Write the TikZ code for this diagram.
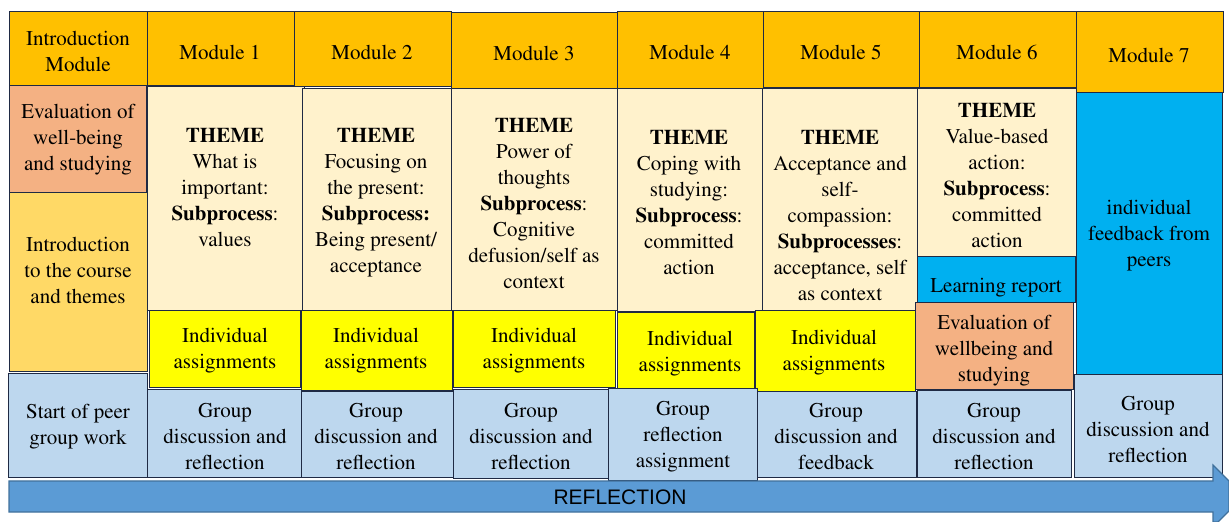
\documentclass[tikz,border=0pt]{standalone}
\usepackage{fontspec}
\newfontfamily\reflfont{Liberation Sans}
\newcommand\cellfont{\fontencoding{OT1}\fontfamily{ptm}\selectfont}
\definecolor{headcol}{HTML}{FFC000}
\definecolor{themecol}{HTML}{FFF2CC}
\definecolor{indivcol}{HTML}{FFFF00}
\definecolor{groupcol}{HTML}{BDD7EE}
\definecolor{evalcol}{HTML}{F4B183}
\definecolor{coursecol}{HTML}{FFD966}
\definecolor{peercol}{HTML}{00B0F0}
\definecolor{arrowcol}{HTML}{5B9BD5}
\definecolor{arrowline}{HTML}{41719C}
\definecolor{framecol}{HTML}{1F2A44}
\tikzset{
	cell/.style = {draw = framecol, line width = 0.5pt},
	head/.style = {cell, fill = headcol},
	theme/.style = {cell, fill = themecol},
	indiv/.style = {cell, fill = indivcol},
	group/.style = {cell, fill = groupcol},
	evalbox/.style = {cell, fill = evalcol},
	peer/.style = {cell, fill = peercol},
	txt/.style = {align = center, inner sep = 0pt, font = \cellfont\fontsize{10.5}{13}\selectfont}
}
\begin{document}
\begin{tikzpicture}[x = 0.5pt, y = -0.5pt]
		\useasboundingbox (0,0) rectangle (1229,522);
		\draw [head] (9,12) rectangle (147,86);
		\draw [head] (147,12) rectangle (294,86);
		\draw [head] (294,12) rectangle (451,87);
		\draw [head] (451,13) rectangle (617,89);
		\draw [head] (617,12) rectangle (763,89);
		\draw [head] (763,12) rectangle (919,88);
		\draw [head] (919,12) rectangle (1076,88);
		\draw [head] (1076,12) rectangle (1223,93);
		\node [txt] (intro) at (78,51) {Introduction\\Module};
		\node [txt] (mod1) at (220,52) {Module 1};
		\node [txt] (mod2) at (372,52) {Module 2};
		\node [txt] (mod3) at (534,53) {Module 3};
		\node [txt] (mod4) at (690,52) {Module 4};
		\node [txt] (mod5) at (841,52) {Module 5};
		\node [txt] (mod6) at (997,52) {Module 6};
		\node [txt] (mod7) at (1149,55) {Module 7};
		\draw [evalbox] (9,86) rectangle (146,193);
		\draw [cell, fill = coursecol] (9,193) rectangle (147,372);
		\draw [group] (8,374) rectangle (147,478);
		\node [txt] (evalstart) at (78,140) {Evaluation of\\well-being\\and studying};
		\node [txt] (introcourse) at (78,270) {Introduction\\to the course\\and themes};
		\node [txt] (peerstart) at (78,427) {Start of peer\\group work};
		\draw [theme] (147,87) rectangle (304,311);
		\draw [theme] (302,89) rectangle (451,311);
		\draw [theme] (451,89) rectangle (617,311);
		\draw [theme] (617,89) rectangle (762,312);
		\draw [theme] (762,89) rectangle (918,311);
		\draw [theme] (917,89) rectangle (1076,257);
		\node [txt] (theme1) at (225,188) {\textbf{THEME}\\What is\\important:\\\textbf{Subprocess}:\\values};
		\node [txt] (theme2) at (376,203) {\textbf{THEME}\\Focusing on\\the present:\\\textbf{Subprocess:}\\Being present/\\acceptance};
		\node [txt] (theme3) at (534,204) {\textbf{THEME}\\Power of\\thoughts\\\textbf{Subprocess}:\\Cognitive\\defusion/self as\\context};
		\node [txt] (theme4) at (689,203) {\textbf{THEME}\\Coping with\\studying:\\\textbf{Subprocess}:\\committed\\action};
		\node [txt] (theme5) at (840,216) {\textbf{THEME}\\Acceptance and\\self-\\compassion:\\\textbf{Subprocesses}:\\acceptance, self\\as context};
		\node [txt] (theme6) at (997,176) {\textbf{THEME}\\Value-based\\action:\\\textbf{Subprocess}:\\committed\\action};
		\draw [peer] (1076,93) rectangle (1222,375);
		\node [txt] (feedback) at (1149,236) {individual\\feedback from\\peers};
		\draw [peer] (917,257) rectangle (1075,303);
		\node [txt] (report) at (996,288) {Learning report};
		\draw [indiv] (149,311) rectangle (300,388);
		\draw [indiv] (301,311) rectangle (452,391);
		\draw [indiv] (453,311) rectangle (615,388);
		\draw [indiv] (617,313) rectangle (754,393);
		\draw [indiv] (755,311) rectangle (915,392);
		\draw [evalbox] (915,303) rectangle (1073,390);
		\node [txt] (indiv1) at (225,351) {Individual\\assignments};
		\node [txt] (indiv2) at (376,351) {Individual\\assignments};
		\node [txt] (indiv3) at (534,351) {Individual\\assignments};
		\node [txt] (indiv4) at (690,354) {Individual\\assignments};
		\node [txt] (indiv5) at (834,353) {Individual\\assignments};
		\node [txt] (evalend) at (994,351) {Evaluation of\\wellbeing and\\studying};
		\draw [group] (147,390) rectangle (301,478);
		\draw [group] (301,392) rectangle (453,478);
		\draw [group] (453,390) rectangle (608,479);
		\draw [group] (608,389) rectangle (757,481);
		\draw [group] (757,392) rectangle (916,478);
		\draw [group] (917,391) rectangle (1071,478);
		\draw [group] (1074,375) rectangle (1222,478);
		\node [txt] (group1) at (225,436) {Group\\discussion and\\reflection};
		\node [txt] (group2) at (376,436) {Group\\discussion and\\reflection};
		\node [txt] (group3) at (531,436) {Group\\discussion and\\reflection};
		\node [txt] (group4) at (683,437) {Group\\reflection\\assignment};
		\node [txt] (group5) at (836,436) {Group\\discussion and\\feedback};
		\node [txt] (group6) at (994,436) {Group\\discussion and\\reflection};
		\node [txt] (group7) at (1148,429) {Group\\discussion and\\reflection};
		\draw [fill = arrowcol, draw = arrowline, line width = 0.6pt] (9,481) -- (1213,481) -- (1213,465) -- (1229,481) -- (1229,511) -- (1218,522) -- (1213,522) -- (1213,512) -- (9,512) -- cycle;
		\node [inner sep = 0pt, font = \reflfont\fontsize{10.5}{13}\selectfont] (reflection) at (620,497) {REFLECTION};
	\end{tikzpicture}
\end{document}
